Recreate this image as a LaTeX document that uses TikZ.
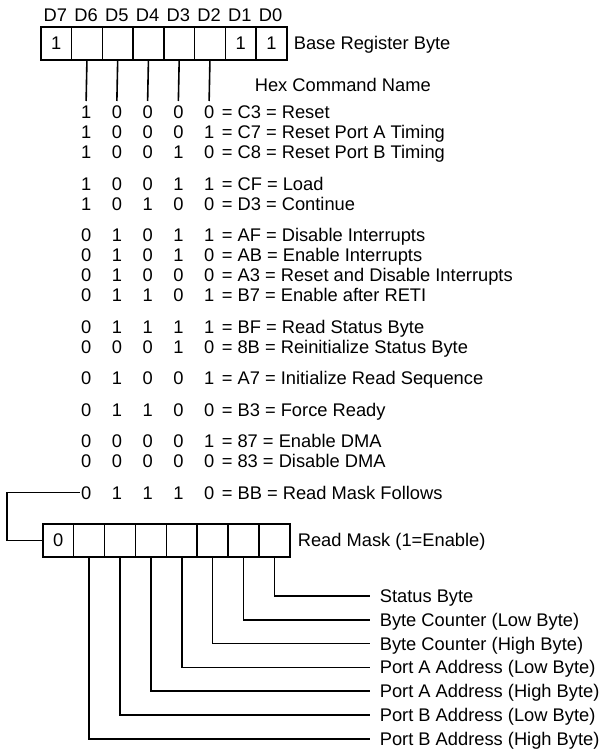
\documentclass[tikz,border=0pt]{standalone}
\usepackage{fontspec}
\setmainfont{Liberation Sans}
\newcommand{\dfont}{\fontsize{18.3}{20}\selectfont}
\begin{document}
\begin{tikzpicture}[x=1pt,y=-1pt,line width=1.6pt,
  txt/.style={inner sep=0pt,anchor=base west,font=\dfont},
  dig/.style={inner sep=0pt,anchor=base,font=\dfont},
  hdr/.style={inner sep=0pt,font=\dfont},
  cell/.style={draw,line width=1.6pt,minimum width=30.75pt,minimum height=33pt,inner sep=0pt,anchor=north west,font=\dfont},
  mcell/.style={draw,line width=1.6pt,minimum width=30.875pt,minimum height=33pt,inner sep=0pt,anchor=north west,font=\dfont}]
\useasboundingbox (0,0) rectangle (604,749);
% base register byte
\foreach \i/\v in {0/1,1/,2/,3/,4/,5/,6/1,7/1}{
  \node[cell] (t\i) at ({40+\i*30.75},26) {\v};
}
\foreach \i in {0,...,7}{
  \pgfmathtruncatemacro{\bit}{7-\i}
  \node[hdr] (h\i) at ({40+(\i+0.5)*30.75},15) {D\bit};
}
\node[txt] (brb) at (293,49.5) {Base Register Byte};
\node[txt] (hcn) at (254,91.5) {Hex Command Name};
\foreach \i in {1,...,5}{
  \coordinate (vl\i) at ({40+(\i+0.5)*30.75},101);
  \draw (t\i.south) -- (vl\i);
}
% command rows
\foreach \y/\a/\b/\c/\d/\e/\t [count=\n] in {
  112/1/0/0/0/0/{= C3 = Reset},
  132/1/0/0/0/1/{= C7 = Reset Port A Timing},
  152/1/0/0/1/0/{= C8 = Reset Port B Timing},
  183.5/1/0/0/1/1/{= CF = Load},
  203.5/1/0/1/0/0/{= D3 = Continue},
  235/0/1/0/1/1/{= AF = Disable Interrupts},
  255/0/1/0/1/0/{= AB = Enable Interrupts},
  275/0/1/0/0/0/{= A3 = Reset and Disable Interrupts},
  295/0/1/1/0/1/{= B7 = Enable after RETI},
  326.5/0/1/1/1/1/{= BF = Read Status Byte},
  346.5/0/0/0/1/0/{= 8B = Reinitialize Status Byte},
  378/0/1/0/0/1/{= A7 = Initialize Read Sequence},
  409.5/0/1/1/0/0/{= B3 = Force Ready},
  441/0/0/0/0/1/{= 87 = Enable DMA},
  461/0/0/0/0/0/{= 83 = Disable DMA},
  492.5/0/1/1/1/0/{= BB = Read Mask Follows}}{
  \node[dig] (r\n-1) at ({40+1.5*30.75},\y+6.5) {\a};
  \node[dig] (r\n-2) at ({40+2.5*30.75},\y+6.5) {\b};
  \node[dig] (r\n-3) at ({40+3.5*30.75},\y+6.5) {\c};
  \node[dig] (r\n-4) at ({40+4.5*30.75},\y+6.5) {\d};
  \node[dig] (r\n-5) at ({40+5.5*30.75},\y+6.5) {\e};
  \node[txt] (r\n-t) at (221,\y+6.5) {\t};
}
% read mask register
\foreach \i/\v in {0/0,1/,2/,3/,4/,5/,6/,7/}{
  \node[mcell] (m\i) at ({42+\i*30.875},523) {\v};
}
\node[txt] (rmk) at (297,546) {Read Mask (1=Enable)};
% bracket from BB row to read mask register
\coordinate (bk0) at (80,492.5);
\coordinate (bk1) at (7,492.5);
\draw (bk0) -- (bk1) |- (m0.west);
% read mask bit lines
\foreach \k/\t in {0/{Status Byte},1/{Byte Counter (Low Byte)},2/{Byte Counter (High Byte)},
  3/{Port A Address (Low Byte)},4/{Port A Address (High Byte)},5/{Port B Address (Low Byte)},
  6/{Port B Address (High Byte)}}{
  \pgfmathtruncatemacro{\c}{7-\k}
  \pgfmathsetmacro{\yy}{596+\k*23.8}
  \node[txt] (ml\k) at (379,\yy+6.5) {\t};
  \coordinate (me\k) at (370,\yy);
  \draw (m\c.south) |- (me\k);
}
\end{tikzpicture}
\end{document}
